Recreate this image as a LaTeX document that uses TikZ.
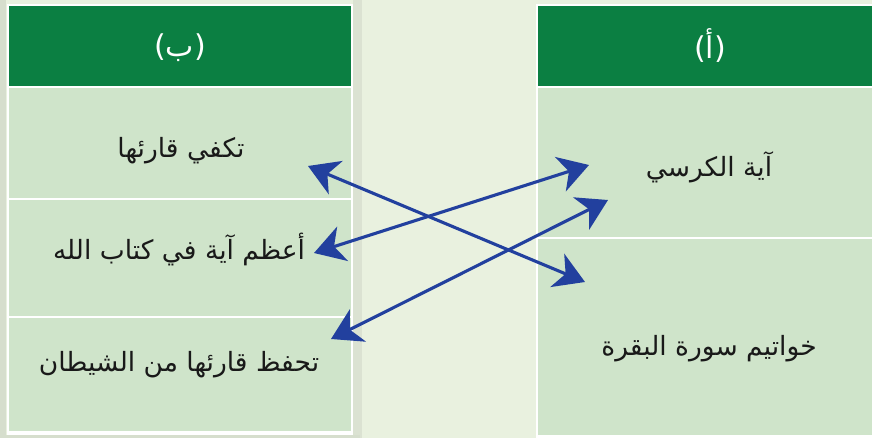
\documentclass[tikz,border=0pt]{standalone}
\usepackage{fontspec}
\usetikzlibrary{arrows.meta}
\TeXXeTstate=1
\newfontfamily\arabicfont[Script=Arabic]{DejaVu Sans}
\definecolor{bgc}{HTML}{E9F1DF}
\definecolor{headc}{HTML}{0B7F42}
\definecolor{cellc}{HTML}{CFE4CA}
\definecolor{arrc}{HTML}{22409E}
\tikzset{
  cellbox/.style={draw=none, fill=cellc, inner sep=0pt},
  headbox/.style={draw=none, fill=headc, inner sep=0pt},
  txt/.style={font=\arabicfont\fontsize{26.5}{30}\selectfont, text=black!90, inner sep=0pt},
  headtxt/.style={font=\arabicfont\fontsize{30}{34}\selectfont, text=white, inner sep=0pt},
  link/.style={draw=arrc, line width=3.1pt, {Stealth[length=30pt,width=36pt,inset=9pt]}-{Stealth[length=30pt,width=36pt,inset=9pt]}}
}
\begin{document}
\begin{tikzpicture}[x=1pt,y=-1pt]
\useasboundingbox (0,0) rectangle (872,438);
\fill[bgc] (0,0) rectangle (872,438);
\fill[black!8!bgc] (0,0) rectangle (6,438);
\fill[black!6!bgc] (353,0) rectangle (362,438);
\fill[black!8!bgc] (0,435) rectangle (360,438);
% left column
\fill[white] (7,4) rectangle (353,435);
\node[headbox, minimum width=342pt, minimum height=80pt] (lh) at (180,46) {};
\node[cellbox, minimum width=342pt, minimum height=110pt] (l1) at (180,143) {};
\node[cellbox, minimum width=342pt, minimum height=116pt] (l2) at (180,258) {};
\node[cellbox, minimum width=342pt, minimum height=113pt] (l3) at (180,374.5) {};
% right column
\fill[white] (536,4) rectangle (872,438);
\node[headbox, minimum width=334pt, minimum height=80pt] (rh) at (705,46) {};
\node[cellbox, minimum width=334pt, minimum height=149pt] (r1) at (705,162.5) {};
\node[cellbox, minimum width=334pt, minimum height=196pt] (r2) at (705,337) {};
% texts
\node[headtxt] (lht) at (180,48) {\beginR(ب)\endR};
\node[headtxt] (rht) at (710,46) {\beginR(أ)\endR};
\node[txt] (t1) at (181,151) {\beginR تكفي قارئها\endR};
\node[txt] (t2) at (179,250) {\beginR أعظم آية في كتاب الله\endR};
\node[txt] (t3) at (179,365) {\beginR تحفظ قارئها من الشيطان\endR};
\node[txt] (t4) at (709,167) {\beginR آية الكرسي\endR};
\node[txt] (t5) at (709,349) {\beginR خواتيم سورة البقرة\endR};
% arrow ends
\coordinate (a1) at (308,166);
\coordinate (b1) at (585,282);
\coordinate (a2) at (314,253);
\coordinate (b2) at (589,165);
\coordinate (a3) at (331,339);
\coordinate (b3) at (608,200);
\draw[link] (a1) -- (b1);
\draw[link] (a2) -- (b2);
\draw[link] (a3) -- (b3);
\end{tikzpicture}
\end{document}
